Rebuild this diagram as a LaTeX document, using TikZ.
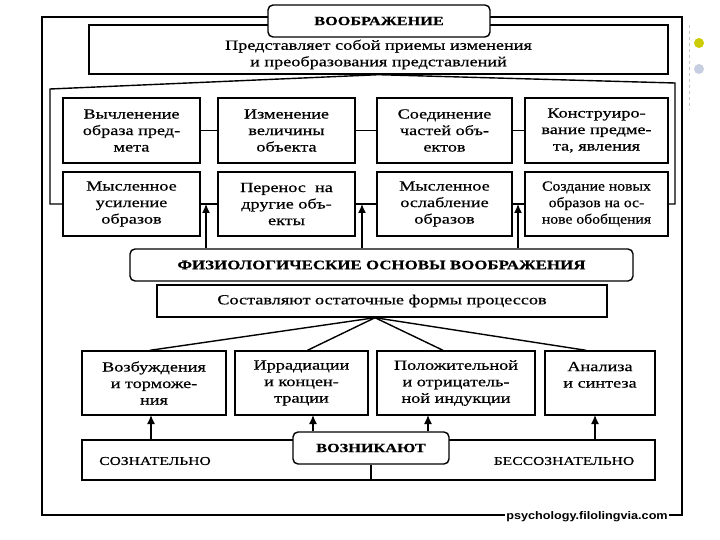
\documentclass[tikz,border=0pt]{standalone}
\usepackage{fontspec}
\setmainfont{Liberation Serif}[FakeStretch=1.3,FakeBold=0.5]
\newfontfamily\narrowfont{Liberation Serif}[FakeStretch=1.12,FakeBold=0.5]
\newfontfamily\wmfont{Liberation Sans}[FakeStretch=1.15]
\usepackage{tikz}
\usetikzlibrary{positioning}
\usetikzlibrary{arrows.meta}
\definecolor{dotyellow}{RGB}{204,204,0}
\definecolor{dotblue}{RGB}{200,206,226}

\begin{document}
\begin{tikzpicture}[x=1pt,y=-1pt,>={Latex[length=9pt,width=8pt]},line width=1.4pt,
	box/.style={draw,fill=white,align=center,inner sep=1pt,font=\fontsize{14}{16.5}\selectfont},
	rbox/.style={box,rounded corners=5pt},
	caps/.style={font=\fontsize{12}{14}\selectfont},
	bcaps/.style={font=\bfseries\fontsize{12.5}{14}\selectfont},
	row/.style={box,minimum height=65pt},
	low/.style={box,minimum height=64pt}, ]

	\useasboundingbox (0,0) rectangle (720,540);
	\fill[white] (0,0) rectangle (720,540);

	% outer frame
	\draw (42,17) rectangle (682,515);

	\node[box,minimum width=579pt,minimum height=49pt] (pred) at (378.5,49.5) {\rule{0pt}{20pt}Представляет собой приемы изменения\\и преобразования представлений};
	\node[rbox,bcaps,minimum width=222pt,minimum height=32pt] (head) at (379,21) {ВООБРАЖЕНИЕ};

	% first row
	\node[row,minimum width=137pt] (a1) at (131.5,130.5) {Вычленение\\образа пред-\\мета};
	\node[row,minimum width=137pt] (a2) at (286.5,130.5) {Изменение\\величины\\объекта};
	\node[row,minimum width=135pt] (a3) at (444.5,130.5) {Соединение\\частей объ-\\ектов};
	\node[row,minimum width=143pt] (a4) at (596.5,130.5) {Конструиро-\\вание предме-\\та, явления};

	% second row
	\node[low,minimum width=137pt] (b1) at (131.5,204) {Мысленное\\усиление\\образов};
	\node[low,minimum width=137pt] (b2) at (286.5,204) {Перенос ~на\\другие объ-\\екты};
	\node[low,minimum width=135pt] (b3) at (444.5,204) {Мысленное\\ослабление\\образов};
	\node[low,minimum width=143pt,font={\narrowfont\fontsize{14}{16.5}\selectfont}] (b4) at (596.5,204) {Создание новых\\образов на ос-\\нове обобщения};

	\draw (a1) -- (a2);
	\draw (a2) -- (a3);
	\draw (a3) -- (a4);
	\draw (b1) -- (b2);
	\draw (b2) -- (b3);
	\draw (b3) -- (b4);
	\draw (b1.west) -- (50,204) -- (50,89) -- (pred.south) -- (675,83) -- (675,204) -- (b4.east);

	\node[rbox,bcaps,minimum width=503pt,minimum height=32pt,font=\bfseries\fontsize{13}{14}\selectfont] (fiz) at (381.5,265) {ФИЗИОЛОГИЧЕСКИЕ ОСНОВЫ ВООБРАЖЕНИЯ};
	\node[box,minimum width=450pt,minimum height=32pt] (sost) at (382,301) {Составляют остаточные формы процессов};

	\coordinate (j1) at (206,204);
	\coordinate (j2) at (362,204);
	\coordinate (j3) at (518,204);
	\draw[->] (fiz.north -| j1) -- (j1);
	\draw[->] (fiz.north -| j2) -- (j2);
	\draw[->] (fiz.north -| j3) -- (j3);

	% third row
	\node[low,minimum width=144pt] (c1) at (154,383) {Возбуждения\\и торможе-\\ния};
	\node[low,minimum width=133pt] (c2) at (301.5,383) {Иррадиации\\и концен-\\трации};
	\node[low,minimum width=158pt] (c3) at (456,383) {Положительной\\и отрицатель-\\ной индукции};
	\node[low,minimum width=110pt] (c4) at (600,383) {Анализа\\и синтеза\\\mbox{}};

	\coordinate (top) at ([xshift=-7pt]sost.south);
	\draw (top) -- ([xshift=-4pt]c1.north);
	\draw (top) -- ([xshift=6pt]c2.north);
	\draw (top) -- ([xshift=-13pt]c3.north);
	\draw (top) -- ([xshift=-14pt]c4.north);

	% bottom bar
	\node[box,minimum width=573pt,minimum height=40pt] (bar) at (368.5,460) {};
	\node[caps] (soz) at (155,461) {СОЗНАТЕЛЬНО};
	\node[caps] (bes) at (564,461) {БЕССОЗНАТЕЛЬНО};
	\node[rbox,bcaps,minimum width=156pt,minimum height=32pt] (voz) at (371,448) {ВОЗНИКАЮТ};
	\draw (voz.south) -- (bar.south -| voz.south);

	\coordinate (k1) at (151,415);
	\coordinate (k2) at (313,415);
	\coordinate (k3) at (428,415);
	\coordinate (k4) at (595,415);
	\draw[->] (bar.north -| k1) -- (k1);
	\draw[->] (voz.north -| k2) -- (k2);
	\draw[->] (voz.north -| k3) -- (k3);
	\draw[->] (bar.north -| k4) -- (k4);

	\node[fill=white,inner sep=1pt,font=\wmfont\bfseries\fontsize{11}{12}\selectfont] (wm) at (587,517) {psychology.filolingvia.com};

	% slide marks
	\draw[gray!45,dashed,line width=1pt] (689,25) -- (689,110);
	\fill[dotyellow] (699,43) circle (5pt);
	\fill[dotblue] (699,69) circle (5pt);

\end{tikzpicture}
\end{document}
